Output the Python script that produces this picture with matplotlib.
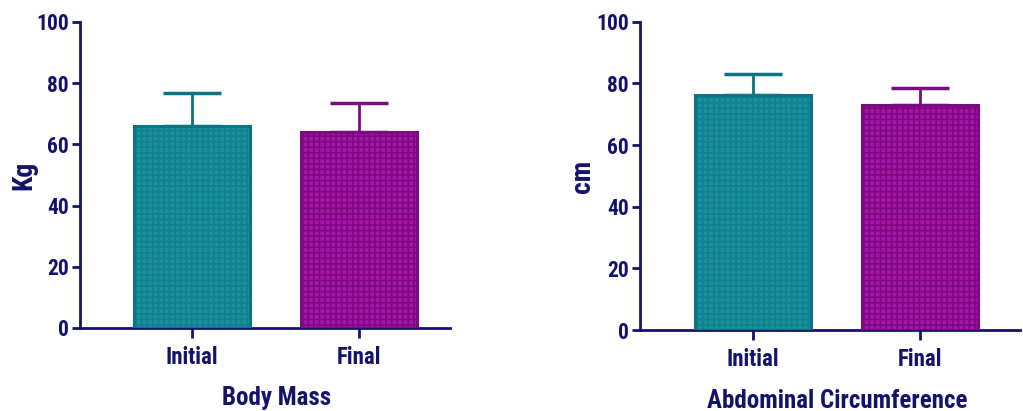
import matplotlib
matplotlib.use("Agg")
import matplotlib.pyplot as plt
from matplotlib import font_manager

# data
groups = ["Initial", "Final"]
body_mass_mean = [66.0, 64.0]
body_mass_sd = [10.7, 9.4]
abdominal_mean = [76.3, 73.0]
abdominal_sd = [6.8, 5.4]

navy = "#13136b"
face_cols = ["#1a919f", "#a814ad"]
edge_cols = ["#0b7482", "#7d0a80"]
hatch_cols = ["#127f8d", "#7a0a7c"]

names = {f.name for f in font_manager.fontManager.ttflist}
narrow = [n for n in ("Liberation Sans Narrow", "Roboto Condensed", "Open Sans Condensed")
          if n in names]
fam = narrow[0] if narrow else "Liberation Sans"
plt.rcParams["font.family"] = [fam, "DejaVu Sans"]
plt.rcParams["font.weight"] = "bold"
plt.rcParams["hatch.linewidth"] = 1.2

fig = plt.figure(figsize=(10.23, 4.11), dpi=100)
ax1 = fig.add_axes([0.0782, 0.202, 0.3617, 0.7445])
ax2 = fig.add_axes([0.6256, 0.197, 0.3715, 0.750])


def draw(ax, means, sds, ylabel, xlabel, xlim, xl_pos, yl_pos):
    x = list(range(len(groups)))
    for i in x:
        ax.errorbar(x[i], means[i], yerr=[[0], [sds[i]]], fmt="none",
                    ecolor=edge_cols[i], elinewidth=2, capsize=21, capthick=2.5,
                    zorder=1)
        ax.bar(x[i], means[i], width=0.69, color=face_cols[i],
               edgecolor=hatch_cols[i], linewidth=0, hatch="+++", zorder=2)
        ax.bar(x[i], means[i], width=0.69, fill=False,
               edgecolor=edge_cols[i], linewidth=2.2, zorder=3)
    ax.set_xlim(*xlim)
    ax.set_ylim(0, 100)
    ax.set_yticks([0, 20, 40, 60, 80, 100])
    ax.set_xticks(x)
    ax.set_xticklabels(groups)
    for s in ("top", "right"):
        ax.spines[s].set_visible(False)
    for s in ("left", "bottom"):
        ax.spines[s].set_color(navy)
        ax.spines[s].set_linewidth(2.0)
    ax.tick_params(axis="both", colors=navy, width=2.0, length=6,
                   labelsize=15.5, direction="out")
    ax.tick_params(axis="x", length=7, pad=6, labelsize=16.5)
    ax.tick_params(axis="y", pad=2)
    ax.set_ylabel(ylabel, fontsize=20, fontweight="bold", color=navy)
    ax.set_xlabel(xlabel, fontsize=18, fontweight="bold", color=navy)
    ax.xaxis.set_label_coords(xl_pos, -0.19)
    ax.yaxis.set_label_coords(yl_pos, 0.5)


draw(ax1, body_mass_mean, body_mass_sd, "Kg", "Body Mass",
     (-0.671, 1.545), 0.53, -0.115)
draw(ax2, abdominal_mean, abdominal_sd, "cm", "Abdominal Circumference",
     (-0.677, 1.599), 0.52, -0.115)

fig.savefig("out.png", dpi=100)
